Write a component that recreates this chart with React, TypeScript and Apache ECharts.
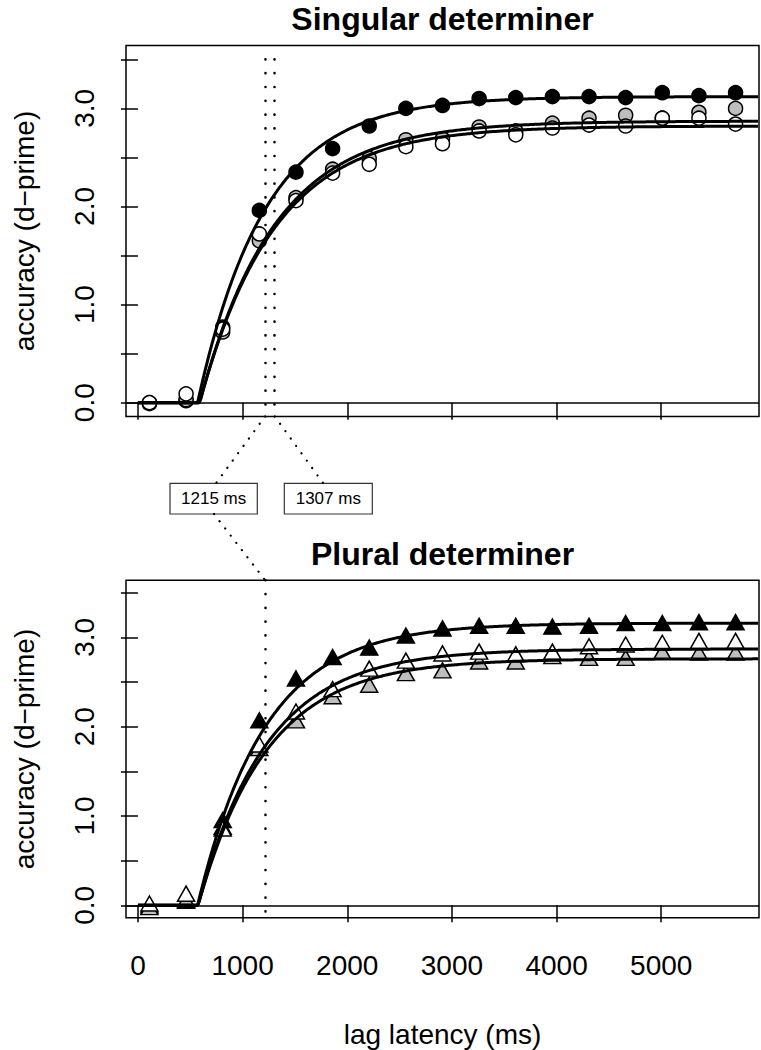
import React, { useEffect, useRef } from "react";
import * as echarts from "echarts";

const FONT = "'Liberation Sans', Arial, Helvetica, sans-serif";

// lag latency (ms) of each data point
const lags = [110, 460, 810, 1160, 1510, 1860, 2210, 2560, 2910, 3260, 3610, 3960, 4310, 4660, 5010, 5360, 5710];

// Singular determiner (circles)
const singBlack = [0.0, 0.02, 0.77, 1.96, 2.35, 2.59, 2.82, 3.0, 3.03, 3.1, 3.11, 3.12, 3.12, 3.11, 3.16, 3.13, 3.16];
const singGray = [-0.01, 0.03, 0.72, 1.65, 2.09, 2.38, 2.49, 2.68, 2.69, 2.81, 2.77, 2.85, 2.9, 2.93, 2.9, 2.96, 3.0];
const singWhite = [0.0, 0.09, 0.75, 1.72, 2.06, 2.34, 2.43, 2.61, 2.64, 2.77, 2.73, 2.8, 2.83, 2.82, 2.9, 2.9, 2.84];

// Plural determiner (triangles)
const plurBlack = [0.0, 0.05, 0.955, 2.07, 2.54, 2.78, 2.885, 3.02, 3.1, 3.13, 3.13, 3.12, 3.13, 3.16, 3.16, 3.17, 3.17];
const plurGray = [-0.02, 0.06, 0.88, 1.76, 2.07, 2.34, 2.47, 2.6, 2.63, 2.73, 2.73, 2.79, 2.77, 2.77, 2.84, 2.83, 2.83];
const plurWhite = [0.02, 0.13, 0.86, 1.8, 2.17, 2.42, 2.65, 2.74, 2.82, 2.84, 2.81, 2.84, 2.9, 2.92, 2.94, 2.96, 2.96];

// Fitted SAT functions d' = asym * (1 - exp(-(t - onset)/tau)), order: black, gray, white
const singAsym = [3.12, 2.87, 2.82];
const singOnset = [570, 590, 590];
const singTau = [645, 717, 717];
const plurAsym = [3.16, 2.76, 2.87];
const plurOnset = [570, 575, 575];
const plurTau = [645, 660, 660];

// reference times (ms)
const singMarks = [1215, 1307];
const plurMarks = [1215];
const markLabels = ["1215 ms", "1307 ms"];

const xTicks = [0, 1000, 2000, 3000, 4000, 5000];
const yTicks = [0, 0.5, 1, 1.5, 2, 2.5, 3, 3.5];
const yLabels = [0, 1, 2, 3];
const titles = ["Singular determiner", "Plural determiner"];
const yName = "accuracy (d\u2212prime)";
const xName = "lag latency (ms)";

const X_MIN = -114;
const X_MAX = 5934;
const Y_MIN = -0.14;
const Y_MAX = 3.64;

const fills = ["#000000", "#bebebe", "#ffffff"];

function curve(asym: number, onset: number, tau: number) {
  const pts: number[][] = [];
  for (let t = 0; t <= X_MAX; t += 15) {
    pts.push([t, t <= onset ? 0 : asym * (1 - Math.exp(-(t - onset) / tau))]);
  }
  if (onset % 15 !== 0) pts.push([onset, 0]);
  pts.sort((a, b) => a[0] - b[0]);
  return pts;
}

export default function App() {
  const ref = useRef<HTMLDivElement>(null);
  useEffect(() => {
    document.body.style.margin = "0";
    const chart = echarts.init(ref.current!, undefined, { renderer: "svg" });

    const grids = [
      { left: 126, top: 45.6, width: 633, height: 370.8 },
      { left: 126, top: 580.2, width: 633, height: 337.6 },
    ];

    const series: any[] = [];
    const panels = [
      { vals: [singBlack, singGray, singWhite], asym: singAsym, onset: singOnset, tau: singTau, sym: "circle", size: 14, marks: singMarks, markTop: 3.5 },
      { vals: [plurBlack, plurGray, plurWhite], asym: plurAsym, onset: plurOnset, tau: plurTau, sym: "triangle", size: [17, 15], marks: plurMarks, markTop: Y_MAX },
    ];
    panels.forEach((p, g) => {
      // zero line + dotted reference lines
      series.push({
        type: "line",
        xAxisIndex: g,
        yAxisIndex: g,
        data: [],
        silent: true,
        markLine: {
          silent: true,
          symbol: "none",
          label: { show: false },
          animation: false,
          data: [
            { yAxis: 0, lineStyle: { color: "#000", width: 1.5, type: "solid" } },
            ...p.marks.map((m) => [
              { coord: [m, p.markTop], lineStyle: { color: "#000", width: 2.6, type: [0.1, 13.7], cap: "round" } },
              { coord: [m, Y_MIN] },
            ]),
          ],
        },
      });
      // points: black, gray, white (white drawn last, on top)
      [0, 1, 2].forEach((k) => {
        series.push({
          type: "scatter",
          xAxisIndex: g,
          yAxisIndex: g,
          symbol: p.sym,
          symbolSize: p.size,
          z: 3 + k * 0.1,
          itemStyle: { color: fills[k], borderColor: "#000", borderWidth: 1.5, opacity: 1 },
          data: lags.map((t, i) => [t, p.vals[k][i]]),
        });
      });
      // fitted curves
      [0, 1, 2].forEach((k) => {
        series.push({
          type: "line",
          xAxisIndex: g,
          yAxisIndex: g,
          showSymbol: false,
          symbol: "none",
          z: 5,
          lineStyle: { color: "#000", width: 3 },
          data: curve(p.asym[k], p.onset[k], p.tau[k]),
        });
      });
    });

    const option: any = {
      animation: false,
      backgroundColor: "#ffffff",
      grid: grids.map((g) => ({ ...g, show: true, borderColor: "#000", borderWidth: 1.5, backgroundColor: "transparent" })),
      xAxis: [0, 1].map((i) => ({
        type: "value",
        gridIndex: i,
        min: X_MIN,
        max: X_MAX,
        axisLine: { show: false },
        axisTick: { show: true, inside: false, length: 17, customValues: xTicks, lineStyle: { color: "#000", width: 1.5 } },
        axisLabel: {
          show: i === 1,
          customValues: xTicks,
          margin: 34,
          fontSize: 28,
          lineHeight: 28,
          color: "#000",
          fontFamily: FONT,
          formatter: (v: number) => String(v),
        },
        splitLine: { show: false },
      })),
      yAxis: [0, 1].map((i) => ({
        type: "value",
        gridIndex: i,
        min: Y_MIN,
        max: Y_MAX,
        axisLine: { show: false },
        axisTick: { show: true, inside: false, length: 17, customValues: yTicks, lineStyle: { color: "#000", width: 1.5 } },
        axisLabel: {
          customValues: yLabels,
          rotate: 90,
          margin: 28,
          fontSize: 28,
          lineHeight: 28,
          color: "#000",
          fontFamily: FONT,
          formatter: (v: number) => v.toFixed(1),
        },
        splitLine: { show: false },
      })),
      series,
    };
    chart.setOption(option);

    const topBottom = chart.convertToPixel({ gridIndex: 0 }, [singMarks[0], Y_MIN]) as number[];
    const top1307 = chart.convertToPixel({ gridIndex: 0 }, [singMarks[1], Y_MIN]) as number[];
    const botTop = chart.convertToPixel({ gridIndex: 1 }, [plurMarks[0], Y_MAX]) as number[];

    const boxY = 483.3;
    const boxH = 30.7;
    const boxes = [
      { x: 170, w: 87.3 },
      { x: 284.3, w: 88 },
    ];
    const dot = { stroke: "#000", lineWidth: 2.2, lineDash: [0.1, 9], lineCap: "round" };
    const txt = (text: string, x: number, y: number, size: number, bold = false, rot = 0) => ({
      type: "text",
      x,
      y,
      rotation: rot,
      z: 20,
      style: {
        text,
        fontSize: size,
        fontWeight: bold ? "bold" : "normal",
        fontFamily: FONT,
        fill: "#000",
        align: "center",
        verticalAlign: "middle",
      },
    });

    chart.setOption({
      graphic: [
        txt(titles[0], 442.5, 19, 32, true),
        txt(titles[1], 442.5, 553.6, 32, true),
        txt(yName, 24, 231, 28, false, Math.PI / 2),
        txt(yName, 24, 749, 28, false, Math.PI / 2),
        txt(xName, 442.5, 1034, 28),
        { type: "line", z: 10, shape: { x1: topBottom[0], y1: topBottom[1], x2: 216, y2: boxY }, style: dot },
        { type: "line", z: 10, shape: { x1: top1307[0], y1: top1307[1], x2: 323.3, y2: boxY }, style: dot },
        { type: "line", z: 10, shape: { x1: 214, y1: boxY + boxH, x2: botTop[0], y2: botTop[1] }, style: dot },
        ...boxes.map((b, i) => ({
          type: "group",
          z: 15,
          children: [
            { type: "rect", shape: { x: b.x, y: boxY, width: b.w, height: boxH }, style: { fill: "#fff", stroke: "#333", lineWidth: 1.2 } },
            txt(markLabels[i], b.x + b.w / 2, boxY + boxH / 2, 17),
          ],
        })),
      ],
    });

    return () => chart.dispose();
  }, []);
  return <div ref={ref} style={{ width: 761, height: 1050 }} />;
}
